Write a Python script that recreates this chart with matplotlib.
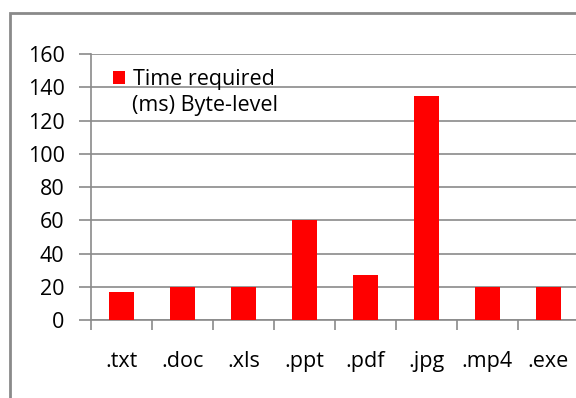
import numpy as np
import matplotlib.pyplot as plt
from matplotlib.patches import Rectangle

plt.rcParams['font.family'] = ['Open Sans', 'DejaVu Sans']

file_types = ['.txt', '.doc', '.xls', '.ppt', '.pdf', '.jpg', '.mp4', '.exe']
time_ms = [17, 20, 20, 60, 27, 135, 20, 20]
y_ticks = [0, 20, 40, 60, 80, 100, 120, 140, 160]

grey = '#8a8a8a'
fs = 15.5

fig = plt.figure(figsize=(5.76, 3.98), dpi=100)
ax = fig.add_axes([0.158, 0.196, 0.847, 0.668])

x = np.arange(len(file_types))
ax.bar(x, time_ms, width=0.4, color='#ff0000', zorder=3,
       label='Time required')

ax.set_xlim(-0.5, len(file_types) - 0.5)
ax.set_ylim(0, 160)
ax.set_yticks(y_ticks)
ax.set_yticklabels([str(v) for v in y_ticks], fontsize=fs)
ax.set_xticks(x)
ax.set_xticklabels(file_types, fontsize=fs)
ax.set_xticks(np.arange(len(file_types)) - 0.5, minor=True)

ax.tick_params(axis='x', which='major', length=0, pad=22)
ax.tick_params(axis='x', which='minor', length=7, width=1.2, color=grey, direction='out')
ax.tick_params(axis='y', length=9, width=1.2, color=grey, pad=10)

ax.grid(axis='y', color=grey, linewidth=1.2, zorder=0)
for side in ['top', 'right']:
    ax.spines[side].set_visible(False)
for side in ['left', 'bottom']:
    ax.spines[side].set_color(grey)
    ax.spines[side].set_linewidth(1.2)

leg = ax.legend(loc='upper left', bbox_to_anchor=(0.015, 1.0), frameon=False,
                fontsize=fs, handlelength=0.55, handleheight=0.55,
                handletextpad=0.35, borderaxespad=0.3)
ax.text(0.084, 0.808, '(ms) Byte-level', transform=ax.transAxes,
        fontsize=fs, va='center', ha='left')

# outer chart frame
fig.patches.append(Rectangle((0.017, -0.05), 1.1, 1.017, transform=fig.transFigure,
                             fill=False, edgecolor=grey, linewidth=2))

fig.savefig('out.png', dpi=100)
